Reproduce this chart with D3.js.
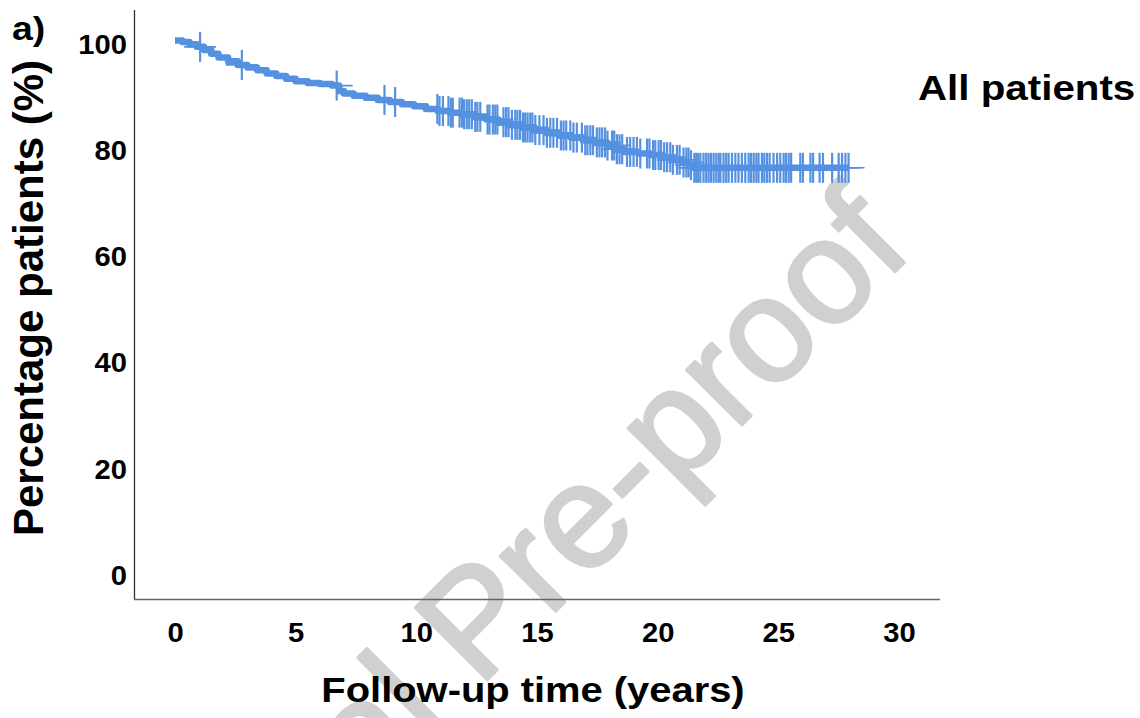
<!DOCTYPE html>
<html><head><meta charset="utf-8">
<script src="https://cdn.jsdelivr.net/npm/d3@7"></script>
<style>
body{margin:0;background:#fff}
svg{display:block}
text{font-family:"Liberation Sans",Arial,Helvetica,sans-serif}
</style>
</head><body>
<svg id="chart" width="1140" height="718"></svg>
<script>
// ---- data ----
const xTicks = [0, 5, 10, 15, 20, 25, 30];
const yTicks = [0, 20, 40, 60, 80, 100];
const eventTimes = [0,0.3,0.6,0.9,1.2,1.5,1.8,2.2,2.6,3.0,3.4,3.8,4.2,4.6,5.0,5.5,6.0,6.5,6.8,7.0,7.4,7.9,8.4,8.9,9.4,9.9,10.4,10.9,11.4,11.9,12.4,12.9,13.4,13.9,14.4,14.9,15.4,15.9,16.4,16.9,17.4,17.9,18.3,18.6,19.2,19.7,20.2,20.6,21.0,21.3,21.45];
const survival = [100,99.7,99.3,98.8,98.2,97.5,96.8,96.1,95.4,94.9,94.4,93.8,93.3,92.8,92.3,92.0,91.8,91.5,90.5,90.0,89.6,89.2,88.8,88.4,88.0,87.6,87.1,86.7,86.4,86.1,85.6,85.1,84.6,84.1,83.6,83.1,82.6,82.1,81.7,81.2,80.8,80.2,79.5,79.0,78.7,78.4,78.0,77.5,77.0,76.5,76.0];
const censorTimes = [1.04,2.77,6.70,8.68,9.12,
 10.87,10.96,11.10,11.33,11.43,11.51,11.79,11.89,11.98,12.09,12.19,12.30,12.44,12.53,12.65,12.95,13.03,13.17,13.27,13.36,13.61,13.72,13.82,13.96,14.10,14.19,14.30,14.42,14.51,14.61,14.72,14.81,14.93,15.10,15.27,15.41,15.55,15.68,15.83,15.99,16.10,16.21,16.38,16.51,16.65,16.86,17.00,17.09,17.21,17.32,17.48,17.59,17.70,17.82,17.92,18.11,18.20,18.31,18.42,18.53,18.73,18.86,19.00,19.14,19.28,19.56,19.66,
 19.81,19.90,20.04,20.14,20.27,20.39,20.52,20.63,20.80,20.91,21.07,21.19,21.28,21.38,21.52,21.60,21.68,21.77,21.90,22.01,22.11,22.21,22.32,22.43,22.53,22.60,22.73,22.84,22.94,23.08,23.22,23.35,23.49,23.63,23.77,23.87,23.98,24.09,24.18,24.32,24.42,24.53,24.64,24.80,24.95,25.08,25.22,25.32,25.43,25.53,25.91,26.02,26.33,26.44,26.71,26.85,27.23,27.50,27.64,27.78,27.91];
const panelLabel = "a)";
const groupLabel = "All patients";
const xTitle = "Follow-up time (years)";
const yTitle = "Percentage patients (%)";
const watermark = "Journal Pre-proof";

// ---- setup ----
const svg = d3.select("#chart");
const blue = "#5591e1";
const SX = 1.08; // horizontal text stretch of the original

const x = d3.scaleLinear().domain([0, 30]).range([175, 899]);
const y = d3.scaleLinear().domain([0, 100]).range([571, 40.5]);

// watermark (beneath everything)
svg.append("text")
  .attr("transform", "translate(915,252) rotate(-45)")
  .attr("text-anchor", "end")
  .attr("font-size", 148)
  .attr("fill", "#d0d0d0")
  .attr("stroke", "#d0d0d0")
  .attr("stroke-width", 3)
  .attr("stroke-linejoin", "round")
  .text(watermark);

// axes frame lines
svg.append("line").attr("x1", 134.5).attr("x2", 134.5).attr("y1", 10).attr("y2", 599.5)
  .attr("stroke", "#333").attr("stroke-width", 1.3);
svg.append("line").attr("x1", 134).attr("x2", 940).attr("y1", 599.5).attr("y2", 599.5)
  .attr("stroke", "#666").attr("stroke-width", 1.6);

// y axis labels
const gy = svg.append("g").attr("transform", "translate(134.5,0)")
  .call(d3.axisLeft(y).tickValues(yTicks).tickSize(0).tickPadding(7).tickFormat(d3.format("d")));
gy.select(".domain").remove();
gy.selectAll("text")
  .attr("font-size", 27).attr("font-weight", "bold").attr("fill", "#000")
  .attr("font-family", "Liberation Sans, Arial, sans-serif")
  .attr("transform", `translate(0,4.5) scale(${SX},1)`);

// x axis labels
const gx = svg.append("g").attr("transform", "translate(0,599.5)")
  .call(d3.axisBottom(x).tickValues(xTicks).tickSize(0).tickFormat(d3.format("d")));
gx.select(".domain").remove();
gx.selectAll(".tick text")
  .attr("font-size", 27).attr("font-weight", "bold").attr("fill", "#000")
  .attr("font-family", "Liberation Sans, Arial, sans-serif")
  .attr("y", 42.5).attr("dy", 0)
  .attr("transform", `scale(${SX},1)`);

// titles
svg.append("text").attr("transform", `translate(533,702) scale(1.14,1)`)
  .attr("text-anchor", "middle").attr("font-size", 35).attr("font-weight", "bold").text(xTitle);
svg.append("text").attr("transform", "translate(43,298) rotate(-90)")
  .attr("text-anchor", "middle").attr("font-size", 42).attr("font-weight", "bold").text(yTitle);
svg.append("text").attr("transform", `translate(918,100) scale(1.12,1)`)
  .attr("font-size", 36).attr("font-weight", "bold").text(groupLabel);
svg.append("text").attr("transform", `translate(12,40) scale(1.1,1)`)
  .attr("font-size", 34).attr("font-weight", "bold").text(panelLabel);

// KM step curve
const lastT = d3.max(censorTimes);
const pts = eventTimes.map((t, i) => ({t, s: survival[i]}));
pts.push({t: lastT, s: survival[survival.length - 1]});
const sAt = t => survival[Math.max(0, d3.bisectRight(eventTimes, t) - 1)];

svg.append("path").datum(pts)
  .attr("fill", "none").attr("stroke", blue).attr("stroke-width", 6.5)
  .attr("stroke-linejoin", "round")
  .attr("d", d3.line().x(d => x(d.t)).y(d => y(d.s)).curve(d3.curveStepAfter));

// censor marks (+)
const cg = svg.append("g").attr("stroke", blue);
censorTimes.forEach(t => {
  const cx = x(t), cy = y(sAt(t));
  cg.append("line").attr("stroke-width", 2.2).attr("x1", cx).attr("x2", cx).attr("y1", cy - 15).attr("y2", cy + 15);
  cg.append("line").attr("stroke-width", 1.6).attr("x1", cx - 16).attr("x2", cx + 16).attr("y1", cy).attr("y2", cy);
});
</script>
</body></html>
